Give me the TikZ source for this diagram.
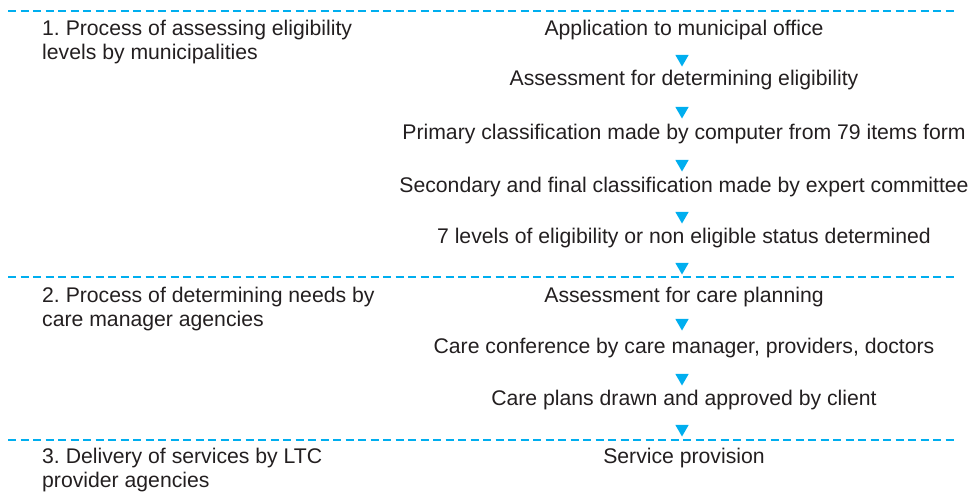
\documentclass[tikz,border=0pt]{standalone}
\usepackage{fontspec}
\setmainfont{Liberation Sans}
\usetikzlibrary{shapes.geometric}
\frenchspacing
\definecolor{txt}{HTML}{231F20}
\definecolor{cy}{HTML}{00AEEF}
\tikzset{
  stage/.style={anchor=base, inner sep=0pt, text=txt, font=\fontsize{21.2}{24}\selectfont},
  side/.style={anchor=base west, inner sep=0pt, text=txt, align=left, font=\fontsize{21.2}{24}\selectfont},
  tri/.style={regular polygon, regular polygon sides=3, shape border rotate=180, minimum size=15.4pt, inner sep=0pt, fill=cy, draw=none},
  sep/.style={draw=cy, line width=1.3pt, dash pattern=on 8pt off 4.5pt}
}
\begin{document}
\begin{tikzpicture}[x=1pt,y=-1pt]
\useasboundingbox (0,0) rectangle (971,491);
% separators
\coordinate (l1a) at (8,11);   \coordinate (l1b) at (957,11);
\coordinate (l2a) at (8,277);  \coordinate (l2b) at (957,277);
\coordinate (l3a) at (8,440);  \coordinate (l3b) at (957,440);
\draw[sep] (l1a) -- (l1b);
\draw[sep] (l2a) -- (l2b);
\draw[sep] (l3a) -- (l3b);
% side labels (anchored at the baseline of their last line)
\node[side] (p1) at (42,59) {1. Process of assessing eligibility\\levels by municipalities};
\node[side] (p2) at (42,326) {2. Process of determining needs by\\care manager agencies};
\node[side] (p3) at (42,487) {3. Delivery of services by LTC\\provider agencies};
% steps
\node[stage] (s1) at (684,35) {Application to municipal office};
\node[stage] (s2) at (684,85) {Assessment for determining eligibility};
\node[stage] (s3) at (684,139) {Primary classification made by computer from 79 items form};
\node[stage] (s4) at (684,192) {Secondary and final classification made by expert committee};
\node[stage] (s5) at (684,243) {7 levels of eligibility or non eligible status determined};
\node[stage] (s6) at (684,302) {Assessment for care planning};
\node[stage] (s7) at (684,353) {Care conference by care manager, providers, doctors};
\node[stage] (s8) at (684,405) {Care plans drawn and approved by client};
\node[stage] (s9) at (684,463) {Service provision};
% arrowheads
\node[tri] (t1) at (682,58.8) {};
\node[tri] (t2) at (682,110.8) {};
\node[tri] (t3) at (682,163.8) {};
\node[tri] (t4) at (682,215.8) {};
\node[tri] (t5) at (682,266.8) {};
\node[tri] (t6) at (682,322.8) {};
\node[tri] (t7) at (682,377.8) {};
\node[tri] (t8) at (682,428.8) {};
\end{tikzpicture}
\end{document}
